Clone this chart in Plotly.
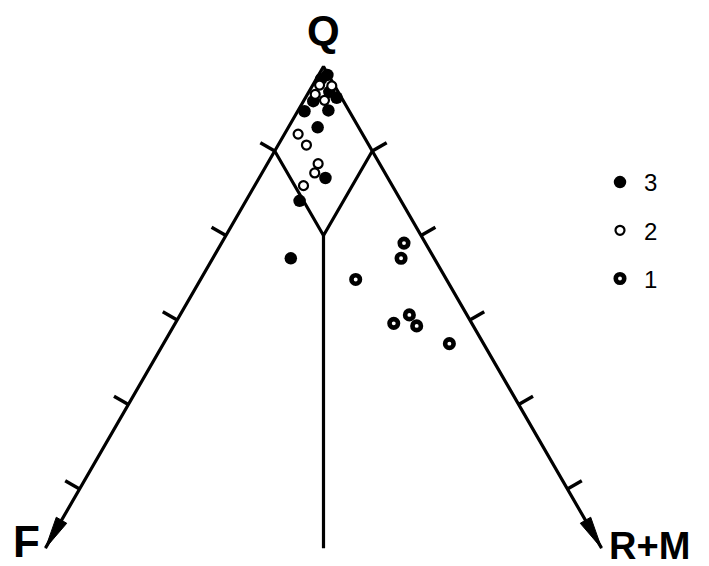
import numpy as np
import plotly.graph_objects as go

# Compositions in percent: Q (quartz), F (feldspar), R+M (rock fragments + mica)
# Group 3 (filled)
q3 = [99.0, 98.5, 97.0, 95.9, 96.3, 94.8, 94.7, 92.8, 86.8, 84.1, 77.3]
f3 = [0.1, 1.0, 0.9, 3.1, 0.5, 2.1, 4.6, 4.2, 6.4, 10.4, 14.7]
rm3 = [0.9, 0.5, 2.1, 1.0, 3.2, 3.1, 0.7, 3.0, 6.8, 5.5, 8.0]

# Group 2 (open)
q2 = [97.8, 97.7, 96.7, 96.0, 92.0, 90.7, 88.5, 87.4, 85.9]
f2 = [1.5, 0.3, 2.5, 1.9, 6.6, 6.4, 6.3, 7.2, 9.1]
rm2 = [0.7, 2.0, 0.8, 2.1, 1.4, 2.9, 5.2, 5.4, 5.0]

# Group 1 (ringed)
q1 = [79.1, 77.3, 74.8, 69.6, 70.6, 69.3, 67.2]
f1 = [2.2, 3.4, 9.3, 8.0, 5.9, 5.8, 3.5]
rm1 = [18.7, 19.3, 15.9, 22.4, 23.5, 24.9, 29.3]

group_names = ["3", "2", "1"]

# Scale marks along the Q-F and Q-(R+M) edges, field boundaries, end of the drawn arms
tick_q = [90, 80, 70, 60, 50]
field_q_outer = 90
field_q_inner = 80
arm_end_q = 43

H = np.sqrt(3) / 2


def to_xy(q, f, rm):
    q = np.asarray(q, dtype=float)
    f = np.asarray(f, dtype=float)
    rm = np.asarray(rm, dtype=float)
    tot = q + f + rm
    x = (rm - f) / tot * 100 / 2
    y = q / tot * 100 * H
    return x, y


def pt(q, f, rm):
    x, y = to_xy([q], [f], [rm])
    return float(x[0]), float(y[0])


apex = pt(100, 0, 0)
left_end = pt(arm_end_q, 100 - arm_end_q, 0)
right_end = pt(arm_end_q, 0, 100 - arm_end_q)

LINE = dict(color="black", width=3.2)

fig = go.Figure()

# Arms of the diagram
fig.add_trace(go.Scatter(
    x=[left_end[0], apex[0], right_end[0]],
    y=[left_end[1], apex[1], right_end[1]],
    mode="lines", line=LINE, showlegend=False, hoverinfo="skip"))

# Field boundaries: rhomb below Q apex and the F / R+M divide
fl = pt(field_q_outer, 100 - field_q_outer, 0)
fr = pt(field_q_outer, 0, 100 - field_q_outer)
fb = pt(field_q_inner, (100 - field_q_inner) / 2, (100 - field_q_inner) / 2)
cend = pt(arm_end_q, (100 - arm_end_q) / 2, (100 - arm_end_q) / 2)
fig.add_trace(go.Scatter(
    x=[fl[0], fb[0], fr[0], None, fb[0], cend[0]],
    y=[fl[1], fb[1], fr[1], None, fb[1], cend[1]],
    mode="lines", line=LINE, showlegend=False, hoverinfo="skip"))

# Scale ticks, pointing outward from each arm
tick_len = 1.7
tx, ty = [], []
for t in tick_q:
    lx, ly = pt(t, 100 - t, 0)
    tx += [lx, lx - H * tick_len, None]
    ty += [ly, ly + 0.5 * tick_len, None]
    rx, ry = pt(t, 0, 100 - t)
    tx += [rx, rx + H * tick_len, None]
    ty += [ry, ry + 0.5 * tick_len, None]
fig.add_trace(go.Scatter(x=tx, y=ty, mode="lines", line=dict(color="black", width=3.4),
                         showlegend=False, hoverinfo="skip"))

# Arrow heads at the ends of the arms
head_len, head_half = 3.3, 0.62
for end in (left_end, right_end):
    ux, uy = end[0] - apex[0], end[1] - apex[1]
    n = np.hypot(ux, uy)
    ux, uy = ux / n, uy / n
    bx, by = end[0] - head_len * ux, end[1] - head_len * uy
    px, py = -uy, ux
    fig.add_trace(go.Scatter(
        x=[end[0], bx + head_half * px, bx - head_half * px, end[0]],
        y=[end[1], by + head_half * py, by - head_half * py, end[1]],
        mode="lines", fill="toself", fillcolor="black",
        line=dict(color="black", width=1), showlegend=False, hoverinfo="skip"))

# Sample points
x3, y3 = to_xy(q3, f3, rm3)
x2, y2 = to_xy(q2, f2, rm2)
x1, y1 = to_xy(q1, f1, rm1)

fig.add_trace(go.Scatter(
    x=x3, y=y3, mode="markers", name=group_names[0], legendgroup="g3",
    marker=dict(symbol="circle", size=12.5, color="black", line=dict(width=0))))
fig.add_trace(go.Scatter(
    x=x2, y=y2, mode="markers", name=group_names[1], legendgroup="g2",
    marker=dict(symbol="circle", size=9, color="white", line=dict(color="black", width=2.2))))
fig.add_trace(go.Scatter(
    x=x1, y=y1, mode="markers", name=group_names[2], legendgroup="g1",
    marker=dict(symbol="circle", size=8.5, color="white", line=dict(color="black", width=4.6))))

# Corner labels
LABEL_FONT = dict(family="Liberation Sans", size=42, color="black", weight="bold")
fig.add_annotation(x=apex[0], y=apex[1] + 3.7, text="Q", showarrow=False,
                   xanchor="center", yanchor="middle", font=LABEL_FONT)
fig.add_annotation(x=left_end[0] - 0.4, y=left_end[1] + 0.7, text="F", showarrow=False,
                   xanchor="right", yanchor="middle", font=dict(LABEL_FONT, size=44))
fig.add_annotation(x=right_end[0] + 0.6, y=right_end[1] + 0.2, text="R+M", showarrow=False,
                   xanchor="left", yanchor="middle", font=dict(LABEL_FONT, size=38))

S = 9.757  # pixels per unit
x_lo = -323.5 / S
x_hi = (709 - 323.5) / S
y_hi = apex[1] + 66.5 / S
y_lo = apex[1] - (566 - 66.5) / S

fig.update_layout(
    width=709, height=566,
    margin=dict(l=0, r=0, t=0, b=0),
    paper_bgcolor="white", plot_bgcolor="white",
    xaxis=dict(range=[x_lo, x_hi], visible=False, fixedrange=True),
    yaxis=dict(range=[y_lo, y_hi], visible=False, fixedrange=True),
    showlegend=True,
    legend=dict(x=596 / 709, y=1 - 160 / 566, xanchor="left", yanchor="top",
                bgcolor="rgba(0,0,0,0)", traceorder="grouped", tracegroupgap=14,
                itemwidth=38,
                font=dict(family="Liberation Sans", size=24, color="black")),
)

fig.write_html("out.html")
